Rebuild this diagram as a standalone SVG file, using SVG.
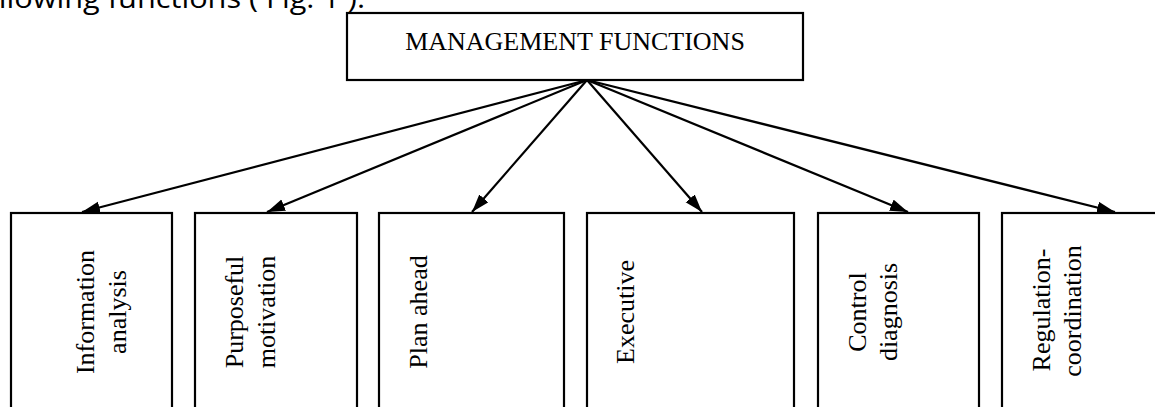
<svg xmlns="http://www.w3.org/2000/svg" width="1155" height="407" viewBox="0 0 1155 407">
<style>
.box{fill:#fff;stroke:#000;stroke-width:2.2}
.lbl{font-family:"Liberation Serif","Times New Roman",serif;font-size:26px;fill:#000;text-anchor:middle}
.con{stroke:#000;stroke-width:2.2;fill:none;marker-end:url(#ah)}
.cap{font-family:"Open Sans","Liberation Sans",Arial,sans-serif;font-size:27px;font-weight:500;fill:#000}
</style>
<defs>
<marker id="ah" markerUnits="userSpaceOnUse" markerWidth="20" markerHeight="14" refX="18" refY="6" orient="auto">
<path d="M0,0 L18,6 L0,12 z" fill="#000"/>
</marker>
</defs>
<rect width="1155" height="407" fill="#fff"/>
<text class="cap" x="-30" y="8" textLength="395" lengthAdjust="spacingAndGlyphs">following functions ( Fig. 1 ).</text>
<g id="top">
<rect class="box" x="347" y="13" width="456" height="67"/>
<text class="lbl" x="575" y="50">MANAGEMENT FUNCTIONS</text>
</g>
<g id="connectors">
<line class="con" x1="587" y1="80" x2="82" y2="212"/>
<line class="con" x1="587" y1="80" x2="267" y2="212"/>
<line class="con" x1="587" y1="80" x2="472" y2="212"/>
<line class="con" x1="587" y1="80" x2="702" y2="212"/>
<line class="con" x1="587" y1="80" x2="908" y2="212"/>
<line class="con" x1="587" y1="80" x2="1115" y2="212"/>
</g>
<g id="n1">
<rect class="box" x="11" y="213" width="161" height="210"/>
<text class="lbl" transform="translate(94,312) rotate(-90)">Information</text>
<text class="lbl" transform="translate(126,312) rotate(-90)">analysis</text>
</g>
<g id="n2">
<rect class="box" x="195" y="213" width="162" height="210"/>
<text class="lbl" transform="translate(243,312) rotate(-90)">Purposeful</text>
<text class="lbl" transform="translate(275,312) rotate(-90)">motivation</text>
</g>
<g id="n3">
<rect class="box" x="379" y="213" width="185" height="210"/>
<text class="lbl" transform="translate(427,312) rotate(-90)">Plan ahead</text>
</g>
<g id="n4">
<rect class="box" x="587" y="213" width="207" height="210"/>
<text class="lbl" transform="translate(634,312) rotate(-90)">Executive</text>
</g>
<g id="n5">
<rect class="box" x="818" y="213" width="161" height="210"/>
<text class="lbl" transform="translate(866,312) rotate(-90)">Control</text>
<text class="lbl" transform="translate(897,312) rotate(-90)">diagnosis</text>
</g>
<g id="n6">
<rect class="box" x="1002" y="213" width="170" height="210"/>
<text class="lbl" transform="translate(1050,310) rotate(-90)">Regulation-</text>
<text class="lbl" transform="translate(1081,311) rotate(-90)">coordination</text>
</g>
</svg>
